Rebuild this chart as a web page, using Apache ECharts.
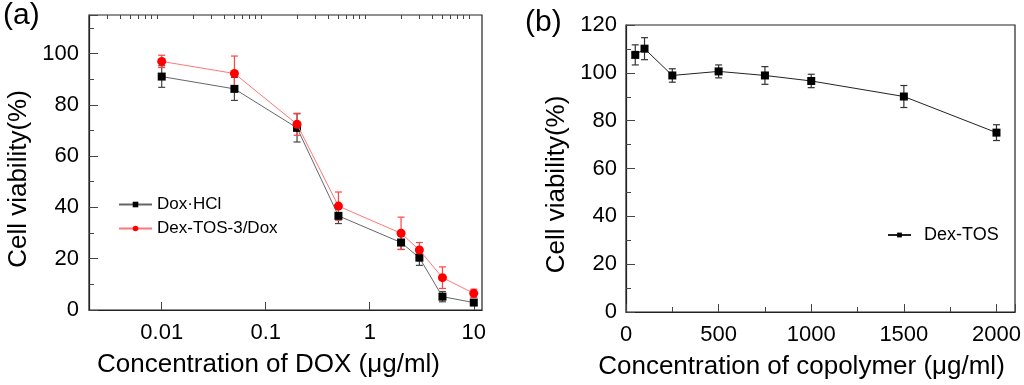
<!DOCTYPE html>
<html><head><meta charset="utf-8">
<script src="https://cdn.jsdelivr.net/npm/echarts@6/dist/echarts.min.js"></script>
<style>html,body{margin:0;padding:0;background:#fff}#c{width:1024px;height:385px}</style>
</head><body><div id="c"></div>
<script>
// Panel (a)
const doxConc = [0.01, 0.05, 0.2, 0.5, 2, 3, 5, 10];
const doxHCl = [91.0, 86.2, 71.0, 36.7, 26.3, 20.4, 5.2, 2.9];
const doxHClErr = [4.2, 4.5, 5.5, 3.0, 2.7, 3.0, 2.0, 1.0];
const dexTosDox = [96.9, 92.2, 72.4, 40.5, 29.9, 23.4, 12.6, 6.5];
const dexTosDoxErr = [2.4, 6.8, 4.3, 5.5, 6.3, 2.9, 4.2, 1.6];
const logMajorTicks = [0.01, 0.1, 1, 10];
const logMinorTicks = [0.003,0.004,0.005,0.006,0.007,0.008,0.009,0.02,0.03,0.04,0.05,0.06,0.07,0.08,0.09,0.2,0.3,0.4,0.5,0.6,0.7,0.8,0.9,2,3,4,5,6,7,8,9];
// Panel (b)
const copolyConc = [50, 100, 250, 500, 750, 1000, 1500, 2000];
const dexTos = [107.5, 110.1, 98.9, 100.6, 98.9, 96.6, 90.1, 75.0];
const dexTosErr = [4.2, 4.6, 2.8, 2.7, 3.7, 2.8, 4.6, 3.3];

const FONT = '"Liberation Sans", Arial, sans-serif';
const chart = echarts.init(document.getElementById('c'));

function errSeries(name, xs, ys, es, xi, yi, color) {
  return {
    type: 'custom', name: name, xAxisIndex: xi, yAxisIndex: yi, z: 3,
    data: xs.map((x, i) => [x, ys[i], es[i]]),
    renderItem: function (params, api) {
      const x = api.value(0), y = api.value(1), e = api.value(2);
      const top = api.coord([x, y + e]);
      const bot = api.coord([x, y - e]);
      const hw = 3.5;
      return {
        type: 'group',
        children: [
          {type: 'line', shape: {x1: top[0], y1: top[1], x2: bot[0], y2: bot[1]}, style: {stroke: color, lineWidth: 1.2}},
          {type: 'line', shape: {x1: top[0]-hw, y1: top[1], x2: top[0]+hw, y2: top[1]}, style: {stroke: color, lineWidth: 1.2}},
          {type: 'line', shape: {x1: bot[0]-hw, y1: bot[1], x2: bot[0]+hw, y2: bot[1]}, style: {stroke: color, lineWidth: 1.2}}
        ]
      };
    }
  };
}

const axisLineStyle = {color: '#222', width: 1.2};
const tickLineStyle = {color: '#444', width: 1};
const labelStyle = {color: '#000', fontFamily: FONT, fontSize: 22};
const nameStyle = {color: '#000', fontFamily: FONT, fontSize: 26};

chart.setOption({
  animation: false,
  backgroundColor: '#fff',
  graphic: [
    {type: 'text', left: 3, top: 1, style: {text: '(a)', font: '30px ' + FONT, fill: '#000'}},
    {type: 'text', left: 525, top: 8, style: {text: '(b)', font: '30px ' + FONT, fill: '#000'}}
  ],
  grid: [
    {left: 89, top: 15, width: 393, height: 295, show: true, borderColor: '#222', borderWidth: 1.2, backgroundColor: 'transparent'},
    {left: 626, top: 25, width: 389, height: 287, show: true, borderColor: '#222', borderWidth: 1.2, backgroundColor: 'transparent'}
  ],
  legend: [
    {orient: 'vertical', left: 113, top: 191, itemWidth: 33, itemHeight: 7, itemGap: 7,
     data: ['Dox·HCl', 'Dex-TOS-3/Dox'],
     textStyle: {fontFamily: FONT, fontSize: 17, color: '#000'}},
    {orient: 'vertical', left: 882, top: 221, itemWidth: 23, itemHeight: 6,
     data: ['Dex-TOS'],
     textStyle: {fontFamily: FONT, fontSize: 18, color: '#000', padding: [0, 0, 0, 8]}}
  ],
  xAxis: [
    {type: 'log', gridIndex: 0, min: 0.002, max: 12,
     name: 'Concentration of DOX (μg/ml)', nameLocation: 'middle', nameGap: 42,
     nameTextStyle: Object.assign({padding: [0, 34, 0, 0]}, nameStyle),
     axisLine: {lineStyle: axisLineStyle},
     axisTick: {inside: true, length: 8, lineStyle: tickLineStyle, customValues: logMajorTicks},
     axisLabel: Object.assign({margin: 12, customValues: logMajorTicks, formatter: v => String(+v)}, labelStyle),
     splitLine: {show: false}, minorTick: {show: false}},
    {type: 'log', gridIndex: 0, min: 0.002, max: 12,
     axisLine: {show: false},
     axisTick: {inside: true, length: 4, lineStyle: tickLineStyle, customValues: logMinorTicks},
     axisLabel: {show: false},
     splitLine: {show: false}},
    {type: 'value', gridIndex: 1, min: 0, max: 2100, interval: 500,
     name: 'Concentration of copolymer (μg/ml)', nameLocation: 'middle', nameGap: 42,
     nameTextStyle: Object.assign({padding: [0, 38, 0, 0]}, nameStyle),
     axisLine: {lineStyle: axisLineStyle},
     axisTick: {inside: true, length: 8, lineStyle: tickLineStyle},
     minorTick: {show: true, splitNumber: 2, length: 5, lineStyle: tickLineStyle},
     axisLabel: Object.assign({margin: 12, formatter: v => (v % 500 === 0 ? String(v) : '')}, labelStyle),
     splitLine: {show: false}}
  ],
  yAxis: [
    {type: 'value', gridIndex: 0, min: 0, max: 115, interval: 20,
     name: 'Cell viability(%)', nameLocation: 'middle', nameGap: 57,
     nameTextStyle: Object.assign({padding: [0, 33, 0, 0]}, nameStyle),
     axisLine: {lineStyle: axisLineStyle},
     axisTick: {inside: true, length: 9, lineStyle: tickLineStyle},
     minorTick: {show: true, splitNumber: 2, length: 5, lineStyle: tickLineStyle},
     axisLabel: Object.assign({margin: 10, formatter: v => (v % 20 === 0 ? String(v) : '')}, labelStyle),
     splitLine: {show: false}},
    {type: 'value', gridIndex: 1, min: 0, max: 120, interval: 20,
     name: 'Cell viability(%)', nameLocation: 'middle', nameGap: 56,
     nameTextStyle: Object.assign({padding: [0, 32, 0, 0]}, nameStyle),
     axisLine: {lineStyle: axisLineStyle},
     axisTick: {inside: true, length: 9, lineStyle: tickLineStyle},
     minorTick: {show: true, splitNumber: 2, length: 5, lineStyle: tickLineStyle},
     axisLabel: Object.assign({margin: 9}, labelStyle),
     splitLine: {show: false}}
  ],
  series: [
    errSeries('errA1', doxConc, doxHCl, doxHClErr, 0, 0, '#444'),
    errSeries('errA2', doxConc, dexTosDox, dexTosDoxErr, 0, 0, '#f44'),
    {type: 'line', name: 'Dox·HCl', xAxisIndex: 0, yAxisIndex: 0, z: 4,
     data: doxConc.map((x, i) => [x, doxHCl[i]]),
     symbol: 'rect', symbolSize: 8,
     itemStyle: {color: '#000'}, lineStyle: {color: '#666', width: 1}},
    {type: 'line', name: 'Dex-TOS-3/Dox', xAxisIndex: 0, yAxisIndex: 0, z: 5,
     data: doxConc.map((x, i) => [x, dexTosDox[i]]),
     symbol: 'circle', symbolSize: 9,
     itemStyle: {color: '#f00'}, lineStyle: {color: '#f77', width: 1}},
    errSeries('errB', copolyConc, dexTos, dexTosErr, 2, 1, '#333'),
    {type: 'line', name: 'Dex-TOS', xAxisIndex: 2, yAxisIndex: 1, z: 4,
     data: copolyConc.map((x, i) => [x, dexTos[i]]),
     symbol: 'rect', symbolSize: 8,
     itemStyle: {color: '#000'}, lineStyle: {color: '#222', width: 1}}
  ]
});
</script></body></html>
